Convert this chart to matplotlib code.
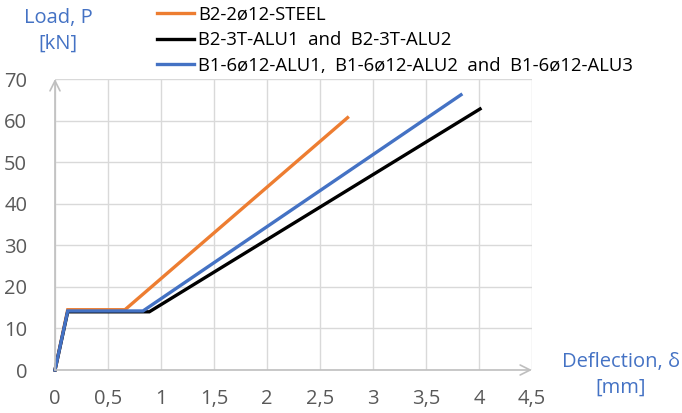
import matplotlib
matplotlib.use("Agg")
import matplotlib.pyplot as plt
import numpy as np

# Data
steel_x = [0, 0.12, 0.66, 2.76]
steel_y = [0, 14.5, 14.5, 60.7]
alu3t_x = [0, 0.12, 0.89, 4.01]
alu3t_y = [0, 14.0, 14.0, 62.8]
alu6_x = [0, 0.12, 0.83, 3.83]
alu6_y = [0, 14.2, 14.2, 66.2]
labels = ["B2-2ø12-STEEL", "B2-3T-ALU1  and  B2-3T-ALU2",
          "B1-6ø12-ALU1,  B1-6ø12-ALU2  and  B1-6ø12-ALU3"]
colors = ["#ED7D31", "#000000", "#4472C4"]
xticks = [0, 0.5, 1, 1.5, 2, 2.5, 3, 3.5, 4, 4.5]
xticklabels = ["0", "0,5", "1", "1,5", "2", "2,5", "3", "3,5", "4", "4,5"]
yticks = [0, 10, 20, 30, 40, 50, 60, 70]

plt.rcParams['font.family'] = ['Open Sans', 'DejaVu Sans']

fig = plt.figure(figsize=(6.82, 4.13), dpi=100)
ax = fig.add_axes([55/682, 1-370/413, (532-55)/682, (370-79)/413])

ax.set_xlim(0, 4.5)
ax.set_ylim(0, 70)
ax.set_xticks(xticks)
ax.set_xticklabels(xticklabels)
ax.set_yticks(yticks)
ax.grid(True, color="#D9D9D9", lw=1)
ax.set_axisbelow(True)
for s in ax.spines.values():
    s.set_visible(False)
ax.tick_params(length=0, labelsize=14.5, colors="#595959", pad=20)
ax.tick_params(axis='x', pad=14)

# axis arrows
ax.annotate("", xy=(4.5, 0), xytext=(0, 0),
            arrowprops=dict(arrowstyle="->", color="#BFBFBF", lw=1.2, mutation_scale=18,
                            shrinkA=0, shrinkB=0), annotation_clip=False)
ax.annotate("", xy=(0, 70), xytext=(0, 0),
            arrowprops=dict(arrowstyle="->", color="#BFBFBF", lw=1.2, mutation_scale=18,
                            shrinkA=0, shrinkB=0), annotation_clip=False)

series = [(steel_x, steel_y), (alu3t_x, alu3t_y), (alu6_x, alu6_y)]
lines = []
for (xs, ys), c, lab in zip(series, colors, labels):
    l, = ax.plot(xs, ys, color=c, lw=2.4, label=lab, clip_on=False, solid_joinstyle='miter')
    lines.append(l)

fig.legend(handles=lines, labels=labels, loc="upper left", bbox_to_anchor=(150/682, 1.005),
           frameon=False, fontsize=13.3, handlelength=2.0, handletextpad=0.2,
           labelspacing=0.42, borderaxespad=0)

fig.text(58/682, 1-31/413, "Load, P\n[kN]", color="#4472C4", fontsize=14.5,
         ha="center", va="center", linespacing=1.4)
fig.text(621/682, 1-375/413, "Deflection, δ\n[mm]", color="#4472C4", fontsize=14.5,
         ha="center", va="center", linespacing=1.4)

fig.savefig("out.png", dpi=100)
